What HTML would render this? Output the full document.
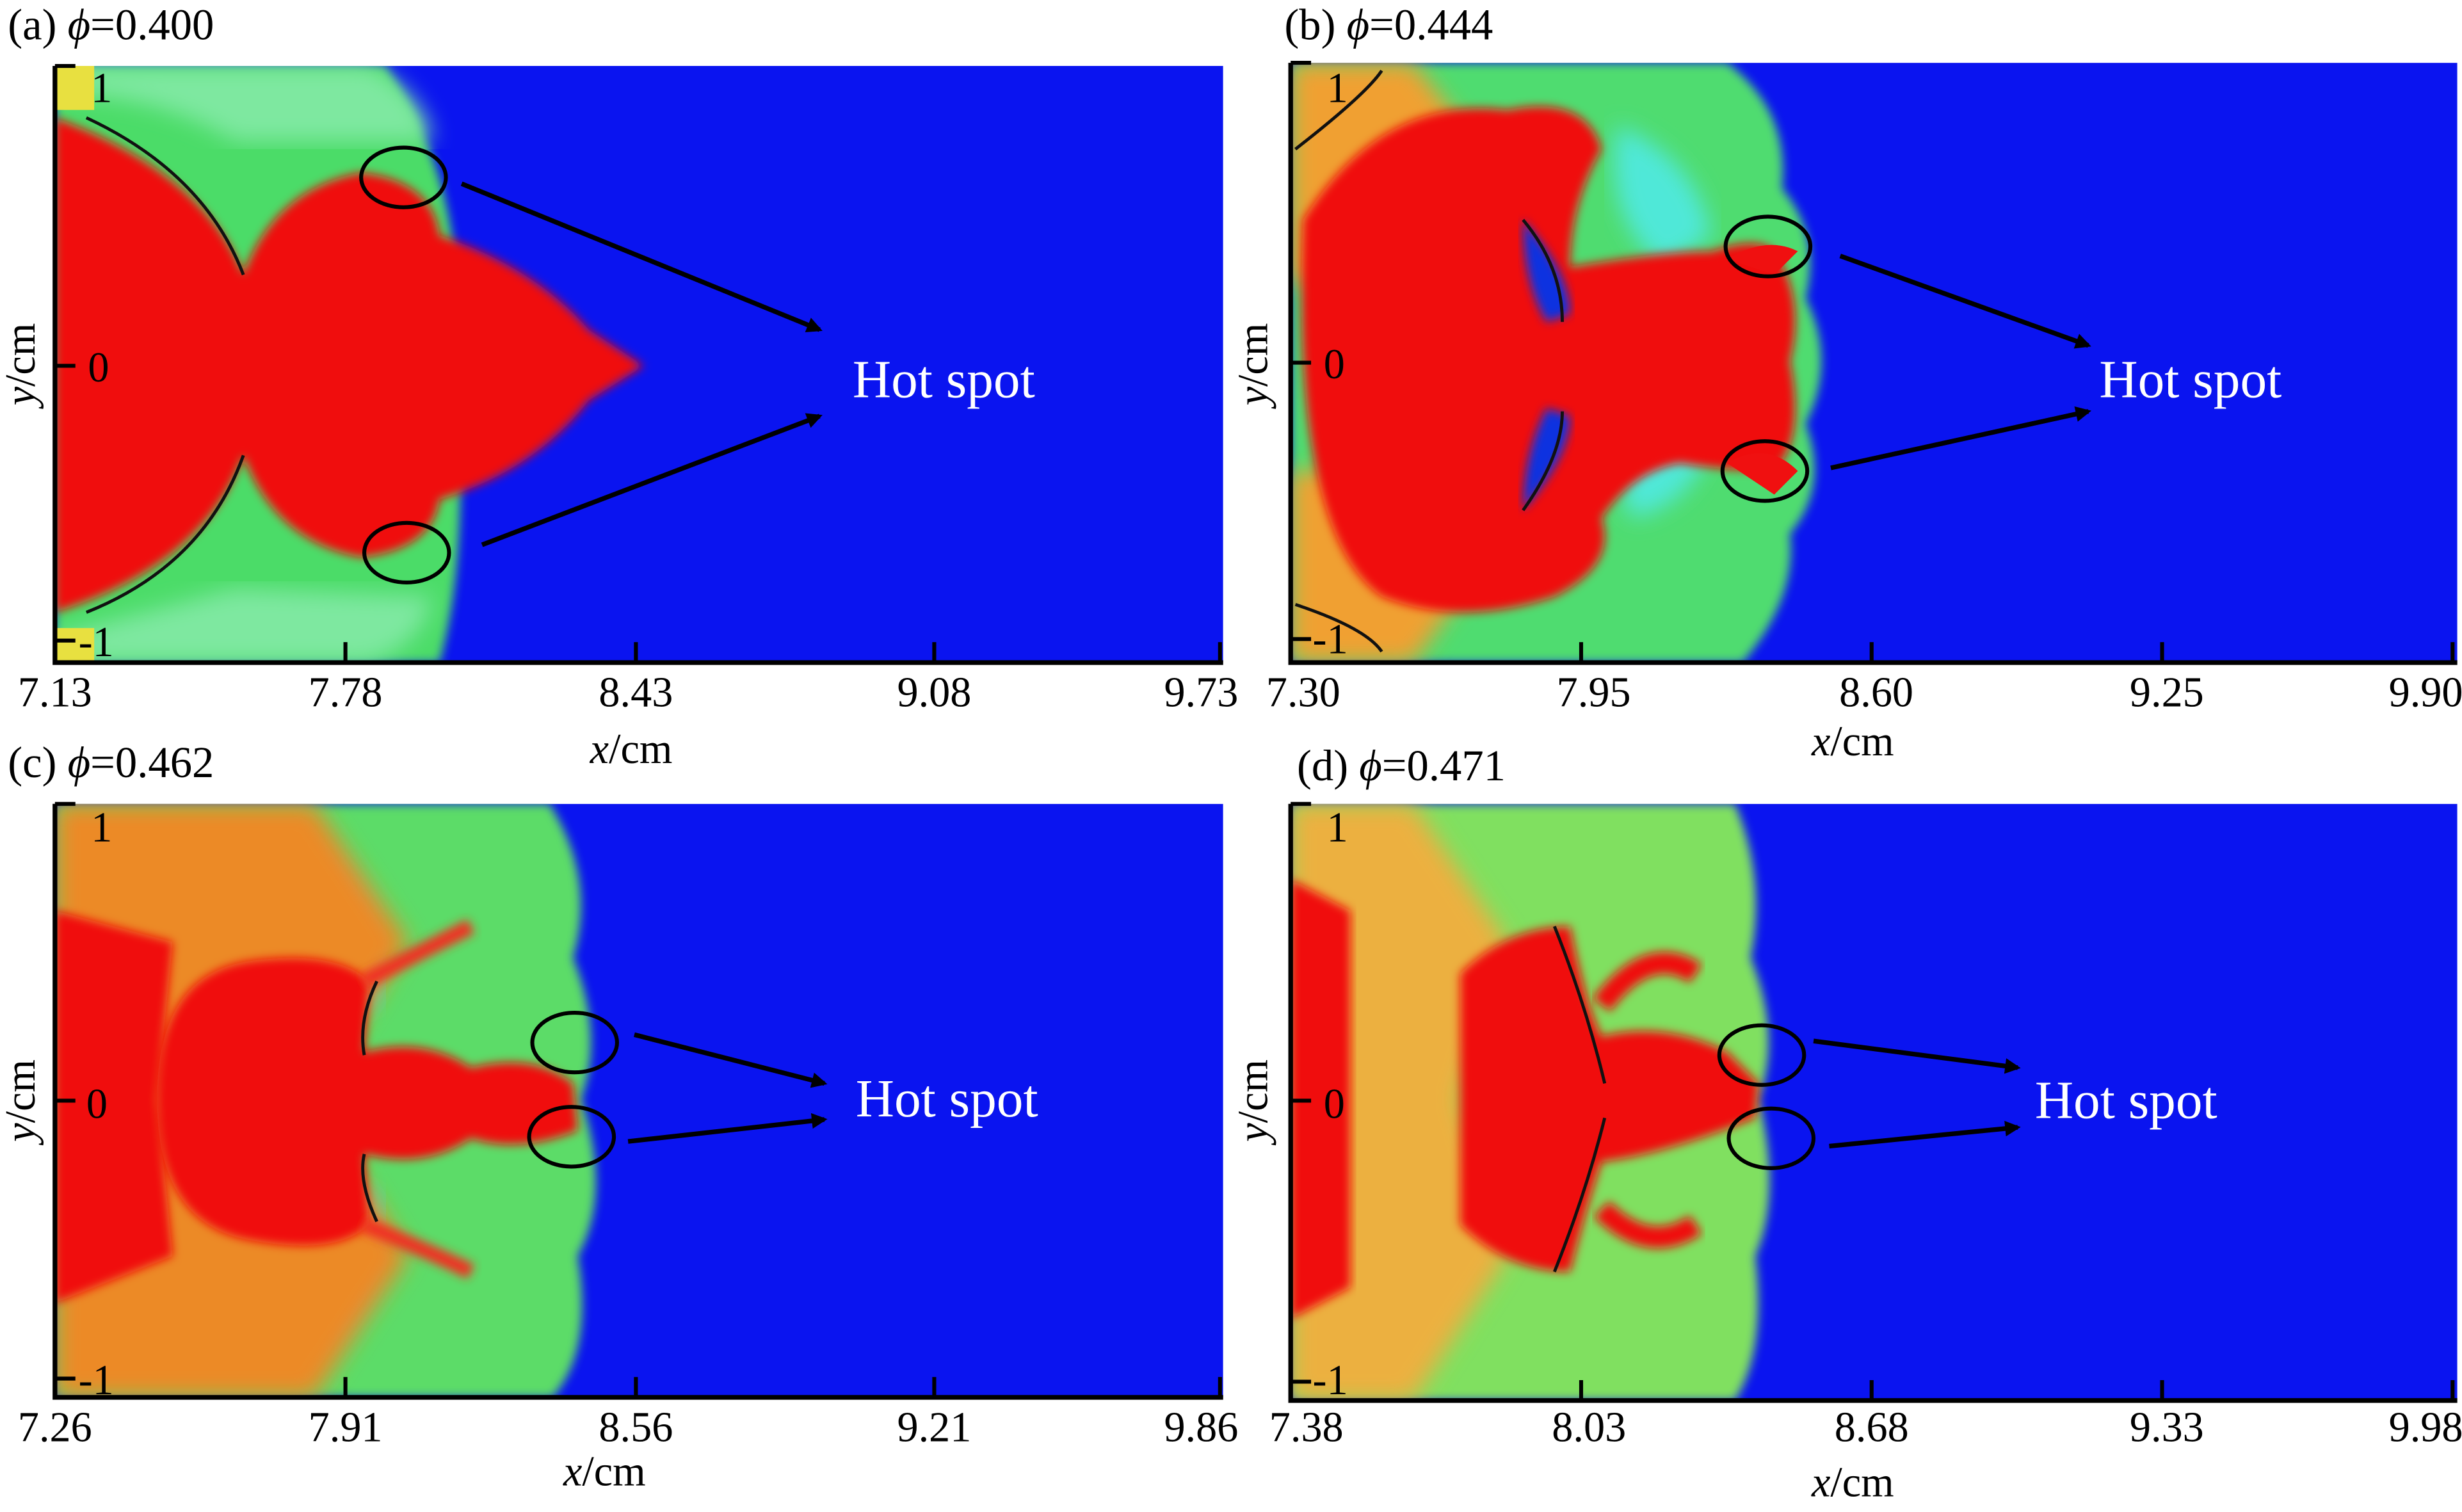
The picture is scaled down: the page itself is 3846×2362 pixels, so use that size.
<!DOCTYPE html>
<html><head><meta charset="utf-8"><style>
html,body{margin:0;padding:0;background:#fff;}
svg{display:block;}
text{font-family:"Liberation Serif",serif;fill:#000;}
</style></head><body>
<svg width="3846" height="2362" viewBox="0 0 1568 963" preserveAspectRatio="none" xmlns="http://www.w3.org/2000/svg">
<defs>
<filter id="bl" x="-10%" y="-10%" width="120%" height="120%"><feGaussianBlur stdDeviation="3"/></filter>
<filter id="bl2" x="-10%" y="-10%" width="120%" height="120%"><feGaussianBlur stdDeviation="7"/></filter>
<clipPath id="ca"><rect x="35" y="42" width="744" height="380"/></clipPath>
<clipPath id="cb"><rect x="822" y="40" width="743" height="382"/></clipPath>
<clipPath id="cc"><rect x="35" y="512" width="744" height="378"/></clipPath>
<clipPath id="cd"><rect x="822" y="512" width="743" height="380"/></clipPath>
<marker id="ar" markerWidth="10" markerHeight="10" refX="8" refY="5" orient="auto" markerUnits="userSpaceOnUse"><path d="M0,0 L10,5 L0,10 z" fill="#000"/></marker>
</defs>

<!-- Panel A -->
<g clip-path="url(#ca)">
<rect x="35" y="42" width="744" height="380" fill="#0a14f0"/>
<path d="M35,42 L245,42 Q300,120 290,233 Q300,350 280,422 L35,422 z" fill="#4cdc68" filter="url(#bl)"/>
<path d="M35,42 L235,42 Q270,60 275,90 L150,90 Q100,60 35,60 z" fill="#7ee8a0" filter="url(#bl2)"/>
<path d="M35,405 L150,375 L275,380 Q270,410 235,422 L35,422 z" fill="#7ee8a0" filter="url(#bl2)"/>
<path d="M35,42 L60,42 L60,70 L35,70 z" fill="#e8e040"/>
<path d="M35,400 L60,400 L60,422 L35,422 z" fill="#e8e040"/>
<path d="M35,75 Q130,110 155,175 Q175,120 230,110 Q275,115 280,150 Q340,170 375,210 L410,233 L375,255 Q340,300 280,318 Q275,350 230,355 Q175,345 155,290 Q130,360 35,390 z" fill="#f01010" filter="url(#bl)"/>
<path d="M55,75 Q130,110 155,175" fill="none" stroke="#111" stroke-width="2"/>
<path d="M55,390 Q130,360 155,290" fill="none" stroke="#111" stroke-width="2"/>
</g>
<path d="M35,42 V422 H779" fill="none" stroke="#000" stroke-width="3"/>
<path d="M35,42 H48 M35,233 H48 M35,408 H48 M220,422 V409 M405,422 V409 M595,422 V409 M777,422 V409" stroke="#000" stroke-width="2.5"/>
<text x="5" y="25" font-size="28">(a) <tspan font-style="italic">ϕ</tspan>=0.400</text>
<text x="58" y="65" font-size="27">1</text><text x="56" y="243" font-size="27">0</text><text x="50" y="418" font-size="27">-1</text>
<g font-size="27" text-anchor="middle"><text x="35" y="450">7.13</text><text x="220" y="450">7.78</text><text x="405" y="450">8.43</text><text x="595" y="450">9.08</text><text x="765" y="450">9.73</text></g>
<text x="402" y="486" font-size="27" text-anchor="middle"><tspan font-style="italic">x</tspan>/cm</text>
<text transform="translate(22,232) rotate(-90)" font-size="27" text-anchor="middle"><tspan font-style="italic">y</tspan>/cm</text>
<ellipse cx="257" cy="113" rx="27" ry="19" fill="none" stroke="#000" stroke-width="2.5"/>
<ellipse cx="259" cy="352" rx="27" ry="19" fill="none" stroke="#000" stroke-width="2.5"/>
<path d="M294,117 L522,210" stroke="#000" stroke-width="3" marker-end="url(#ar)"/>
<path d="M307,347 L522,265" stroke="#000" stroke-width="3" marker-end="url(#ar)"/>
<text x="543" y="253" font-size="34" style="fill:#fff">Hot spot</text>

<!-- Panel B -->
<g clip-path="url(#cb)">
<rect x="822" y="40" width="743" height="382" fill="#0a14f0"/>
<path d="M822,40 L1100,40 Q1140,70 1135,120 Q1160,150 1150,190 Q1170,230 1150,270 Q1165,310 1140,340 Q1145,380 1110,422 L822,422 z" fill="#50dc70" filter="url(#bl)"/>
<path d="M1030,80 Q1080,100 1090,150 L1060,170 Q1020,140 1030,80 z M1040,330 Q1080,320 1090,280 L1060,270 Q1020,300 1040,330 z" fill="#50e8d8" filter="url(#bl2)"/>
<path d="M822,40 L900,40 L940,90 L860,180 L822,180 z M822,300 L870,300 L930,380 L900,422 L822,422 z" fill="#f0a030" filter="url(#bl2)"/>
<path d="M830,140 Q880,60 960,70 Q1010,60 1020,95 Q1000,130 1000,170 Q1060,160 1090,160 Q1120,150 1130,160 Q1150,190 1140,230 Q1150,280 1130,300 Q1100,300 1070,295 Q1040,300 1020,330 Q1030,360 990,380 Q930,400 880,380 Q822,340 830,140 z" fill="#f01010" filter="url(#bl)"/>
<path d="M1100,295 Q1125,280 1145,300 L1130,315 z M1100,165 Q1125,150 1145,160 L1130,175 z" fill="#f01010"/>
<path d="M970,140 Q1000,175 1000,200 L985,205 Q970,180 970,140 z M970,325 Q1000,290 1000,265 L985,260 Q970,290 970,325 z" fill="#1030e0" filter="url(#bl)"/>
<path d="M970,140 Q995,170 995,205 M970,325 Q995,290 995,262" fill="none" stroke="#111" stroke-width="2"/>
<path d="M825,95 Q870,60 880,45 M825,385 Q870,400 880,415" fill="none" stroke="#111" stroke-width="2"/>
</g>
<path d="M822,40 V422 H1565" fill="none" stroke="#000" stroke-width="3"/>
<path d="M822,40 H835 M822,231 H835 M822,407 H835 M1007,422 V409 M1192,422 V409 M1377,422 V409 M1562,422 V409" stroke="#000" stroke-width="2.5"/>
<text x="818" y="25" font-size="28">(b) <tspan font-style="italic">ϕ</tspan>=0.444</text>
<text x="845" y="65" font-size="27">1</text><text x="843" y="241" font-size="27">0</text><text x="836" y="416" font-size="27">-1</text>
<g font-size="27" text-anchor="middle"><text x="830" y="450">7.30</text><text x="1015" y="450">7.95</text><text x="1195" y="450">8.60</text><text x="1380" y="450">9.25</text><text x="1545" y="450">9.90</text></g>
<text x="1180" y="481" font-size="27" text-anchor="middle"><tspan font-style="italic">x</tspan>/cm</text>
<text transform="translate(807,232) rotate(-90)" font-size="27" text-anchor="middle"><tspan font-style="italic">y</tspan>/cm</text>
<ellipse cx="1126" cy="157" rx="27" ry="19" fill="none" stroke="#000" stroke-width="2.5"/>
<ellipse cx="1124" cy="300" rx="27" ry="19" fill="none" stroke="#000" stroke-width="2.5"/>
<path d="M1172,163 L1330,220" stroke="#000" stroke-width="3" marker-end="url(#ar)"/>
<path d="M1166,298 L1330,262" stroke="#000" stroke-width="3" marker-end="url(#ar)"/>
<text x="1337" y="253" font-size="34" style="fill:#fff">Hot spot</text>

<!-- Panel C -->
<g clip-path="url(#cc)">
<rect x="35" y="512" width="744" height="378" fill="#0a14f0"/>
<path d="M35,512 L350,512 Q380,560 365,610 Q385,660 370,700 Q390,760 368,800 Q378,860 352,890 L35,890 z" fill="#5cdc68" filter="url(#bl)"/>
<path d="M200,540 Q250,580 240,640 L200,640 z M200,860 Q250,820 240,760 L200,760 z" fill="#40d8e8" filter="url(#bl2)"/>
<path d="M35,512 L200,512 L260,600 L200,700 L260,800 L200,890 L35,890 z" fill="#ec8a28" filter="url(#bl2)"/>
<path d="M35,580 L110,600 L100,700 L110,800 L35,830 z" fill="#f01010" filter="url(#bl)"/>
<path d="M100,700 Q100,620 160,612 Q215,605 235,625 L232,670 Q270,660 300,680 Q340,670 365,690 L368,720 Q330,735 300,725 Q270,745 232,735 L235,780 Q215,800 160,790 Q100,780 100,700 z" fill="#f01010" filter="url(#bl)"/>
<path d="M232,625 Q280,600 300,590 M232,780 Q280,800 300,810" stroke="#f03020" stroke-width="10" fill="none" filter="url(#bl)"/>
<path d="M240,625 Q228,650 232,672 M240,778 Q228,752 232,735" fill="none" stroke="#111" stroke-width="2"/>
</g>
<path d="M35,512 V890 H779" fill="none" stroke="#000" stroke-width="3"/>
<path d="M35,512 H48 M35,701 H48 M35,878 H48 M220,890 V877 M405,890 V877 M595,890 V877 M777,890 V877" stroke="#000" stroke-width="2.5"/>
<text x="5" y="495" font-size="28">(c) <tspan font-style="italic">ϕ</tspan>=0.462</text>
<text x="58" y="536" font-size="27">1</text><text x="55" y="712" font-size="27">0</text><text x="50" y="888" font-size="27">-1</text>
<g font-size="27" text-anchor="middle"><text x="35" y="918">7.26</text><text x="220" y="918">7.91</text><text x="405" y="918">8.56</text><text x="595" y="918">9.21</text><text x="765" y="918">9.86</text></g>
<text x="385" y="946" font-size="27" text-anchor="middle"><tspan font-style="italic">x</tspan>/cm</text>
<text transform="translate(22,701) rotate(-90)" font-size="27" text-anchor="middle"><tspan font-style="italic">y</tspan>/cm</text>
<ellipse cx="366" cy="664" rx="27" ry="19" fill="none" stroke="#000" stroke-width="2.5"/>
<ellipse cx="364" cy="724" rx="27" ry="19" fill="none" stroke="#000" stroke-width="2.5"/>
<path d="M404,659 L525,690" stroke="#000" stroke-width="3" marker-end="url(#ar)"/>
<path d="M400,727 L525,713" stroke="#000" stroke-width="3" marker-end="url(#ar)"/>
<text x="545" y="711" font-size="34" style="fill:#fff">Hot spot</text>

<!-- Panel D -->
<g clip-path="url(#cd)">
<rect x="822" y="512" width="743" height="380" fill="#0a14f0"/>
<path d="M822,512 L1105,512 Q1125,560 1115,610 Q1135,660 1120,700 Q1135,760 1118,800 Q1125,860 1105,892 L822,892 z" fill="#80e060" filter="url(#bl)"/>
<path d="M822,512 L900,512 L960,600 L930,700 L960,800 L900,892 L822,892 z" fill="#ecb040" filter="url(#bl2)"/>
<path d="M822,560 L860,580 L860,820 L822,840 z" fill="#f01010" filter="url(#bl)"/>
<path d="M930,620 Q960,590 1000,590 Q1010,640 1020,660 Q1060,650 1100,670 L1120,690 L1118,712 Q1060,735 1020,740 Q1010,770 1000,810 Q960,810 930,780 z" fill="#f01010" filter="url(#bl)"/>
<path d="M1020,640 Q1050,600 1080,620 M1020,770 Q1050,800 1080,780" stroke="#f01010" stroke-width="14" fill="none" filter="url(#bl)"/>
<path d="M990,590 Q1010,640 1022,690 M990,810 Q1010,760 1022,712" fill="none" stroke="#111" stroke-width="2"/>
</g>
<path d="M822,512 V892 H1565" fill="none" stroke="#000" stroke-width="3"/>
<path d="M822,512 H835 M822,701 H835 M822,880 H835 M1007,892 V879 M1192,892 V879 M1377,892 V879 M1562,892 V879" stroke="#000" stroke-width="2.5"/>
<text x="826" y="497" font-size="28">(d) <tspan font-style="italic">ϕ</tspan>=0.471</text>
<text x="845" y="536" font-size="27">1</text><text x="843" y="712" font-size="27">0</text><text x="836" y="888" font-size="27">-1</text>
<g font-size="27" text-anchor="middle"><text x="832" y="918">7.38</text><text x="1012" y="918">8.03</text><text x="1192" y="918">8.68</text><text x="1380" y="918">9.33</text><text x="1545" y="918">9.98</text></g>
<text x="1180" y="953" font-size="27" text-anchor="middle"><tspan font-style="italic">x</tspan>/cm</text>
<text transform="translate(807,701) rotate(-90)" font-size="27" text-anchor="middle"><tspan font-style="italic">y</tspan>/cm</text>
<ellipse cx="1122" cy="672" rx="27" ry="19" fill="none" stroke="#000" stroke-width="2.5"/>
<ellipse cx="1128" cy="725" rx="27" ry="19" fill="none" stroke="#000" stroke-width="2.5"/>
<path d="M1155,663 L1285,680" stroke="#000" stroke-width="3" marker-end="url(#ar)"/>
<path d="M1165,730 L1285,718" stroke="#000" stroke-width="3" marker-end="url(#ar)"/>
<text x="1296" y="712" font-size="34" style="fill:#fff">Hot spot</text>
</svg>
</body></html>
